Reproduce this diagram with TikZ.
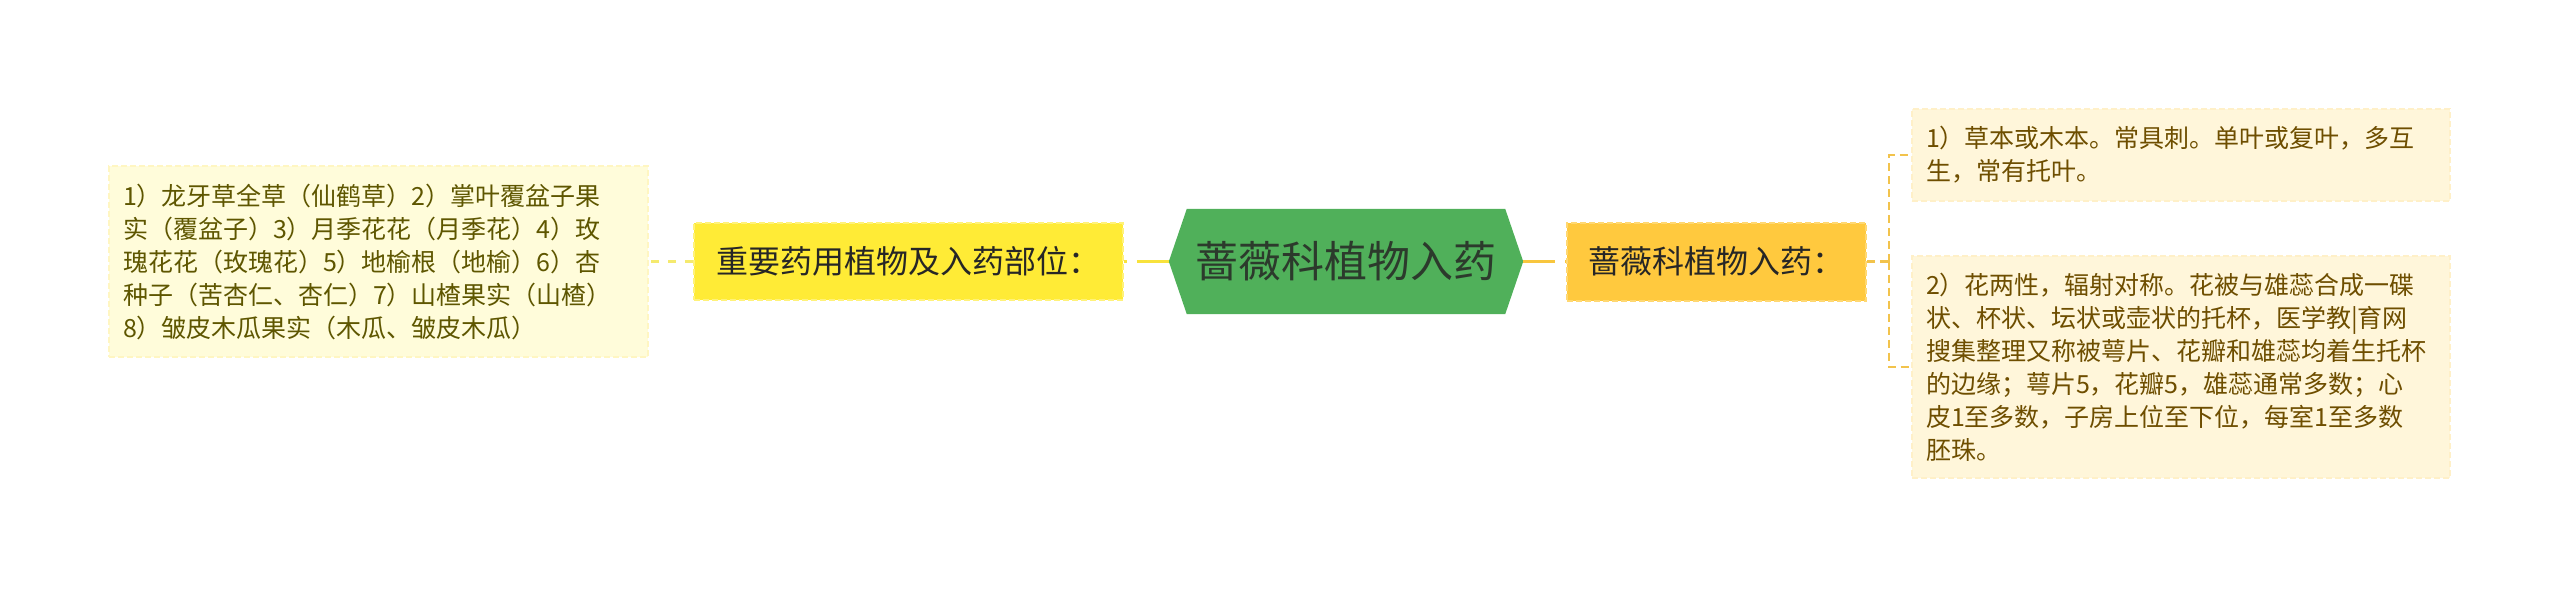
\documentclass[tikz,border=0pt]{standalone}
\usepackage{fontspec}
\setmainfont{Noto Sans CJK SC}
\usetikzlibrary{backgrounds}
\definecolor{leftfill}{HTML}{FFFCDA}
\definecolor{leftborder}{HTML}{FFF6C2}
\definecolor{lefttext}{HTML}{5E5600}
\definecolor{yfill}{HTML}{FFEB36}
\definecolor{yborder}{HTML}{FFF27A}
\definecolor{ofill}{HTML}{FFC93E}
\definecolor{oborder}{HTML}{FFD872}
\definecolor{rfill}{HTML}{FFF6DA}
\definecolor{rborder}{HTML}{FFF0C8}
\definecolor{rtext}{HTML}{6E4E00}
\definecolor{hexfill}{HTML}{50B05A}
\definecolor{hextext}{HTML}{2C3A2C}
\definecolor{ylink}{HTML}{F8E23C}
\definecolor{olink}{HTML}{F8C63E}
\definecolor{lylink}{HTML}{F5EA6E}
\definecolor{brlink}{HTML}{F2C34C}
\tikzset{
  leafbox/.style={draw=#1, dash pattern=on 6pt off 3pt, line width=1.5pt,
     align=left, inner sep=0pt, anchor=center,
     font=\fontsize{25}{33}\selectfont},
  mainbox/.style={draw=#1, dash pattern=on 6pt off 3pt, line width=2pt,
     inner sep=0pt, anchor=center, font=\fontsize{32}{38}\selectfont, text=black!85},
  hexbox/.style={inner sep=0pt, anchor=center, font=\fontsize{43}{50}\selectfont, text=hextext},
  solidlink/.style={line width=3.5pt, dash pattern=on 32pt off 10pt},
  dashlink/.style={line width=2.5pt, dash pattern=on 8pt off 9pt},
}
\begin{document}
\begin{tikzpicture}[x=1pt,y=-1pt]
\useasboundingbox (0,0) rectangle (2560,589);
% left leaf
\node[leafbox=leftborder, fill=leftfill, text=lefttext,
      minimum width=539, minimum height=191, text width=511] (L) at (378.5,261.5)
 {1）龙牙草全草（仙鹤草）2）掌叶覆盆子果\\
  实（覆盆子）3）月季花花（月季花）4）玫\\
  瑰花花（玫瑰花）5）地榆根（地榆）6）杏\\
  种子（苦杏仁、杏仁）7）山楂果实（山楂）\\
  8）皱皮木瓜果实（木瓜、皱皮木瓜）};
% left main
\node[mainbox=yborder, fill=yfill, minimum width=429, minimum height=77] (Y) at (908.5,261.5)
 {重要药用植物及入药部位：};
% center
\node[hexbox, minimum width=318, minimum height=105] (C) at (1346,261.5) {蔷薇科植物入药};
\begin{scope}[on background layer]
\fill[hexfill] (C.north west) -- (C.north east) -- ([xshift=18pt]C.east)
   -- (C.south east) -- (C.south west) -- ([xshift=-18pt]C.west) -- cycle;
\end{scope}
% right main
\node[mainbox=oborder, fill=ofill, minimum width=299, minimum height=78] (O) at (1716.5,261.5)
 {蔷薇科植物入药：};
% right leaves
\node[leafbox=rborder, fill=rfill, text=rtext,
      minimum width=538, minimum height=92, text width=510] (R1) at (2181,155)
 {1）草本或木本。常具刺。单叶或复叶，多互\\
  生，常有托叶。};
\node[leafbox=rborder, fill=rfill, text=rtext,
      minimum width=538, minimum height=222, text width=510] (R2) at (2181,367)
 {2）花两性，辐射对称。花被与雄蕊合成一碟\\
  状、杯状、坛状或壶状的托杯，医学教|育网\\
  搜集整理又称被萼片、花瓣和雄蕊均着生托杯\\
  的边缘；萼片5，花瓣5，雄蕊通常多数；心\\
  皮1至多数，子房上位至下位，每室1至多数\\
  胚珠。};
\coordinate (J) at (1889,261.5);
% connectors
\begin{scope}[on background layer]
\draw[solidlink, ylink] ([xshift=-18pt]C.west) -- (Y.east);
\draw[solidlink, olink] ([xshift=18pt]C.east) -- (O.east -| O.west);
\draw[dashlink, lylink] (Y.west) -- (L.east);
\draw[dashlink, brlink, dash pattern=on 8pt off 5pt] (O.east) -- (J);
\draw[dashlink, brlink, dash pattern=on 8pt off 5pt] (J) |- (R1.west);
\draw[dashlink, brlink, dash pattern=on 8pt off 5pt] (J) |- (R2.west);
\end{scope}
\end{tikzpicture}
\end{document}
